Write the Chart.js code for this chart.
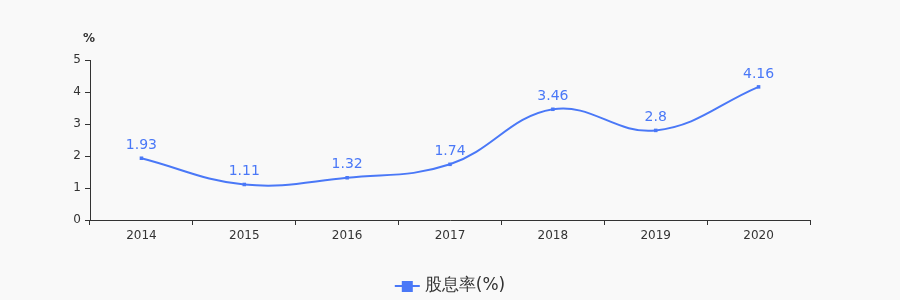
<!DOCTYPE html>
<html>
<head>
<meta charset="utf-8">
<script src="https://cdn.jsdelivr.net/npm/chart.js@4"></script>
<style>
  html, body { margin: 0; padding: 0; background: #f9f9f9; }
  #wrap { width: 900px; height: 300px; }
</style>
</head>
<body>
<div id="wrap"><canvas id="yieldCanvas" width="900" height="300"></canvas></div>
<script>
// ── Data ── //
const years = ['2014', '2015', '2016', '2017', '2018', '2019', '2020'];
const dividendYield = [1.93, 1.11, 1.32, 1.74, 3.46, 2.8, 4.16];
const yTicks = [0, 1, 2, 3, 4, 5];
const seriesName = '股息率(%)';

const lineColor = '#4a78f7';
const axisColor = '#333333';
const fontFamily = '"DejaVu Sans", sans-serif';

// ── Value labels + unit + legend ── //
const extrasPlugin = {
  id: 'extras',
  afterDatasetsDraw(chart) {
    const c = chart.ctx;
    const meta = chart.getDatasetMeta(0);
    c.save();
    c.fillStyle = lineColor;
    c.font = '14px ' + fontFamily;
    c.textAlign = 'center';
    c.textBaseline = 'bottom';
    meta.data.forEach((pt, i) => {
      c.fillText(String(dividendYield[i]), pt.x, pt.y - 6);
    });

    // unit label above y axis
    c.fillStyle = axisColor;
    c.font = 'bold 12px ' + fontFamily;
    c.textAlign = 'center';
    c.textBaseline = 'middle';
    c.fillText('%', chart.chartArea.left - 1, 39);

    // legend
    const cx = 450, cy = 286;
    c.font = '17px ' + fontFamily;
    const tw = c.measureText(seriesName).width;
    const total = 25 + 5 + tw;
    const x0 = cx - total / 2;
    c.strokeStyle = lineColor;
    c.lineWidth = 2;
    c.beginPath();
    c.moveTo(x0, cy);
    c.lineTo(x0 + 25, cy);
    c.stroke();
    c.fillStyle = lineColor;
    c.fillRect(x0 + 7, cy - 5, 11, 11);
    c.fillStyle = axisColor;
    c.textAlign = 'left';
    c.fillText(seriesName, x0 + 30, cy);
    c.restore();
  }
};

new Chart(document.getElementById('yieldCanvas'), {
  type: 'line',
  data: {
    labels: years,
    datasets: [{
      label: seriesName,
      data: dividendYield,
      borderColor: lineColor,
      backgroundColor: lineColor,
      borderWidth: 2,
      tension: 0.4,
      pointStyle: 'rect',
      pointRadius: 2.5,
      pointBackgroundColor: lineColor,
      pointBorderWidth: 0,
      fill: false,
    }],
  },
  options: {
    responsive: false,
    animation: false,
    layout: { padding: { left: 0, right: 90, top: 60, bottom: 0 } },
    scales: {
      x: {
        offset: true,
        grid: {
          offset: true,
          drawOnChartArea: false,
          drawTicks: true,
          tickLength: 5,
          color: axisColor,
        },
        border: { display: true, color: axisColor, width: 1 },
        ticks: {
          color: axisColor,
          font: { family: fontFamily, size: 12 },
          padding: 4,
          maxRotation: 0,
        },
        afterFit(scale) { scale.height = 80; },
      },
      y: {
        min: 0,
        max: 5,
        afterBuildTicks(scale) { scale.ticks = yTicks.map(v => ({ value: v })); },
        grid: {
          drawOnChartArea: false,
          drawTicks: true,
          tickLength: 5,
          color: axisColor,
        },
        border: { display: true, color: axisColor, width: 1 },
        ticks: {
          color: axisColor,
          font: { family: fontFamily, size: 12 },
          padding: 4,
        },
        afterFit(scale) { scale.width = 90; },
      },
    },
    plugins: {
      legend: { display: false },
      tooltip: { enabled: false },
    },
  },
  plugins: [extrasPlugin],
});
</script>
</body>
</html>
